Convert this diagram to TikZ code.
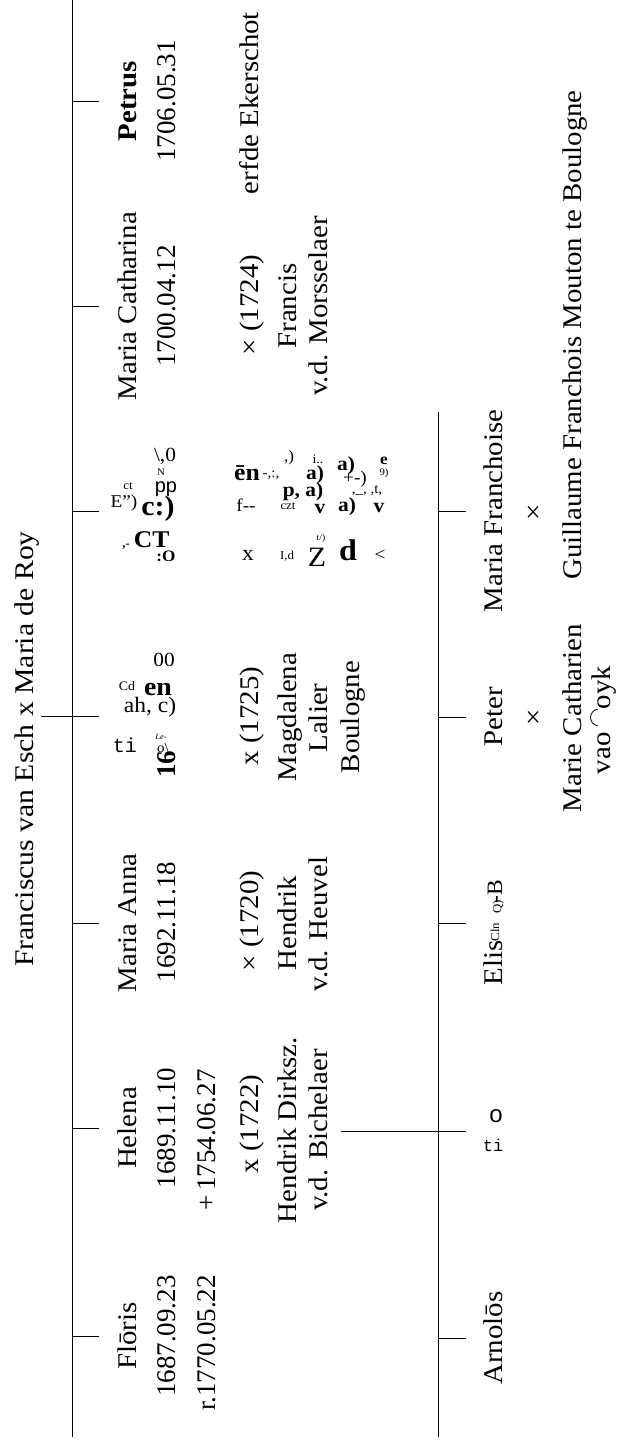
\documentclass[tikz,border=0pt]{standalone}
\usepackage{fontspec}
\setmainfont{Liberation Serif}[FakeStretch=1.07]
\setsansfont{Liberation Sans}
\setmonofont{Liberation Mono}
\newfontfamily\datef{Liberation Serif}
\newfontfamily\titlef{Liberation Serif}[FakeStretch=1.1]
\usepackage{tikz}
\usetikzlibrary{positioning}

\newcommand\fs{\fontsize{27}{31}\selectfont}
\newcommand\gsz[1]{\fontsize{#1}{#1}\selectfont}

\begin{document}
\begin{tikzpicture}[
            x=1pt, y=-1pt,
            font=\fs,
            lbl/.style={rotate=90, anchor=base, inner sep=0pt},
            date/.style={lbl, font=\datef\fs},
            scrap/.style={inner sep=0pt, anchor=center},
            stem/.style={line width=1pt},
            tick/.style={line width=0.9pt}
        ]
\useasboundingbox (0,0) rectangle (618,1442);

% --- parents ---
            \node[lbl, font=\titlef\fs] (title) at (33,749) {Franciscus van Esch x Maria de Roy};
            \coordinate (root) at (41,716);

% --- first generation: one column per child ---
            \node[lbl, font=\fs\bfseries] (petrus) at (136,101) {Petrus};
            \node[date] (petrusb) at (175,101) {1706.05.31};
            \node[lbl]  (petrusn) at (258,103) {erfde Ekerschot};

            \node[lbl]  (cath)   at (136,306) {Maria Catharina};
            \node[date] (cathb)  at (175,306) {1700.04.12};
            \node[lbl]  (cathx)  at (258,305) {× (1724)};
            \node[lbl]  (cathsa) at (296,306) {Francis};
            \node[lbl]  (cathsb) at (327,306) {v.d. Morsselaer};

% garbled column (scan noise, printed upright)
            \coordinate (garb) at (136,511);
            \node[scrap, font=\gsz{20}]           (g1)  at (165,456) {\textbackslash,0};
            \node[scrap, font=\gsz{10}]           (g2)  at (161,472) {N};
            \node[scrap, font=\gsz{12}]           (g3)  at (128,486) {ct};
            \node[scrap, font=\gsz{20}\sffamily]  (g4)  at (166,489) {pp};
            \node[scrap, font=\gsz{18}]           (g5)  at (124,503) {E'')};
            \node[scrap, font=\gsz{28}\bfseries]  (g6)  at (158,509) {c:)};
            \node[scrap, font=\gsz{24}\bfseries]  (g7)  at (146,540) {{\gsz{12},-}\,CT};
            \node[scrap, font=\gsz{16}\bfseries]  (g8)  at (166,556) {:O};
            \node[scrap, font=\gsz{24}\bfseries]  (g9)  at (247,473) {ēn};
            \node[scrap, font=\gsz{14}]           (g10) at (271,475) {-,:,};
            \node[scrap, font=\gsz{16}]           (g11) at (289,458) {,)};
            \node[scrap, font=\gsz{13}]           (g12) at (318,459) {i..};
            \node[scrap, font=\gsz{20}\bfseries]  (g13) at (315,475) {a)};
            \node[scrap, font=\gsz{20}\bfseries]  (g14) at (303,492) {p, a)};
            \node[scrap, font=\gsz{18}]           (g15) at (246,505) {f{-}{-}};
            \node[scrap, font=\gsz{12}]           (g16) at (288,506) {czt};
            \node[scrap, font=\gsz{20}\bfseries]  (g17) at (320,509) {v};
            \node[scrap, font=\gsz{22}]           (g18) at (248,555) {x};
            \node[scrap, font=\gsz{12}]           (g19) at (287,556) {I,d};
            \node[scrap, font=\gsz{28}]           (g20) at (317,557) {Z};
            \node[scrap, font=\gsz{9}]            (g21) at (321,538) {t/)};
            \node[scrap, font=\gsz{20}\bfseries]  (g22) at (346,466) {a)};
            \node[scrap, font=\gsz{16}\bfseries]  (g23) at (384,461) {e};
            \node[scrap, font=\gsz{10}]           (g24) at (384,473) {9)};
            \node[scrap, font=\gsz{18}]           (g25) at (355,479) {+-)};
            \node[scrap, font=\gsz{14}]           (g26) at (367,491) {,\_,\ ,t,};
            \node[scrap, font=\gsz{20}\bfseries]  (g27) at (347,507) {a)};
            \node[scrap, font=\gsz{20}\bfseries]  (g28) at (379,508) {v};
            \node[scrap, font=\gsz{30}\bfseries]  (g29) at (348,550) {d};
            \node[scrap, font=\gsz{18}]           (g30) at (380,555) {\textless};

% Lalier column
            \node[scrap, font=\gsz{20}]           (l1) at (164,660) {00};
            \node[scrap, font=\gsz{13}]           (l2) at (127,686) {Cd};
            \node[scrap, font=\gsz{26}\bfseries]  (l3) at (158,689) {en};
            \node[scrap, font=\gsz{22}]           (l4) at (150,707) {ah, c)};
            \node[scrap, font=\gsz{20}\ttfamily]  (l5) at (125,745) {ti};
            \node[scrap, font=\gsz{8}\itshape]    (l6) at (161,737) {Le-};
            \node[scrap, font=\gsz{14}]           (l7) at (163,748) {o\textbackslash};
            \node[lbl, font=\datef\fs\bfseries]   (l8) at (175,764) {16};
            \node[lbl] (lalx)  at (258,716) {x (1725)};
            \node[lbl] (lalsa) at (296,717) {Magdalena};
            \node[lbl] (lalsb) at (327,718) {Lalier};
            \node[lbl] (lalsc) at (359,717) {Boulogne};

            \node[lbl]  (anna)   at (136,923) {Maria Anna};
            \node[date] (annab)  at (175,922) {1692.11.18};
            \node[lbl]  (annax)  at (258,921) {× (1720)};
            \node[lbl]  (annasa) at (296,923) {Hendrik};
            \node[lbl]  (annasb) at (327,924) {v.d. Heuvel};

            \node[lbl]  (helena)   at (136,1128) {Helena};
            \node[date] (helenab)  at (175,1128) {1689.11.10};
            \node[date] (helenad)  at (215,1140) {+\,1754.06.27};
            \node[lbl]  (helenax)  at (258,1124) {x (1722)};
            \node[lbl]  (helenasa) at (296,1130) {Hendrik Dirksz.};
            \node[lbl]  (helenasb) at (327,1130) {v.d. Bichelaer};
            \coordinate (hlink) at (341,1131);

            \node[lbl]  (floris)  at (136,1336) {Flōris};
            \node[date] (florisb) at (175,1336) {1687.09.23};
            \node[date] (florisd) at (215,1343) {r.1770.05.22};

% --- second generation (children of Helena) ---
            \node[lbl] (franch)  at (502,511) {Maria Franchoise};
            \node[lbl] (franchx) at (542,512) {×};
            \node[lbl] (franchs) at (581,335) {Guillaume Franchois Mouton te Boulogne};

            \node[lbl] (peter)   at (502,717) {Peter};
            \node[lbl] (peterx)  at (542,717) {×};
            \node[lbl] (petersa) at (581,718) {Marie Catharien};
            \node[lbl] (petersb) at (610,720) {vao\hspace{0.85em}oyk};
% the arc sign of the scan, which no font has
            \coordinate (arca) at (598,726);
            \coordinate (arcb) at (598,709);
            \draw[line width=0.8pt] (arca) .. controls (588,724) and (588,711) .. (arcb);

            \coordinate (elis) at (502,923);
            \node[lbl] (elisa) at (502,963) {Elis};
            \node[lbl, font=\gsz{12}] (elisb) at (499,932) {Cln};
            \node[lbl, font=\gsz{12}] (elisc) at (501,907) {Q)};
            \node[lbl, font=\gsz{22}] (elisd) at (502,892) {-B};

            \node[scrap, font=\gsz{24}\sffamily] (ho)  at (496,1116) {o};
            \node[scrap, font=\gsz{17}\ttfamily] (hti) at (493,1145) {ti};

            \node[lbl] (arnold) at (502,1338) {Arnol\=os};

% --- stems and ticks ---
            \coordinate (stem)  at (72,0);
            \coordinate (tk)    at (98.5,0);
            \coordinate (stem2) at (438.7,412);
            \coordinate (tk2)   at (466,0);
            \draw[stem] (stem) -- (72,1437);
            \draw[stem] (stem2) -- (438.7,1437);

            \draw[tick] (root) -- (tk |- root);
            \foreach \c in {petrus, cath, garb, anna, helena, floris}
                \draw[tick] (stem |- \c) -- (tk |- \c);

            \draw[tick] (hlink) -- (tk2 |- hlink);
            \foreach \c in {franch, peter, elis, arnold}
                \draw[tick] (stem2 |- \c) -- (tk2 |- \c);
        \end{tikzpicture}
\end{document}
